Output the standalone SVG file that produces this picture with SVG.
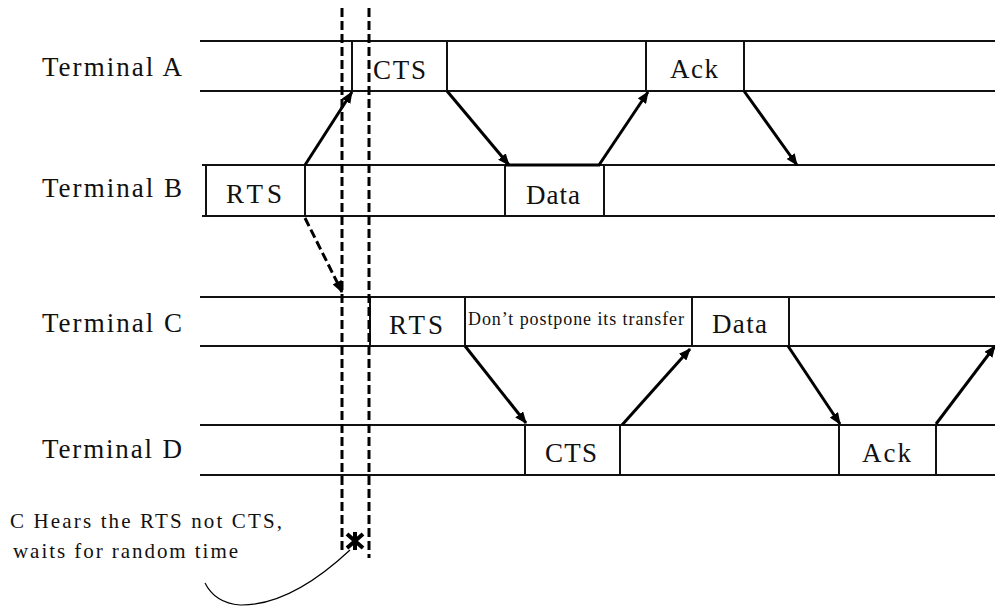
<svg xmlns="http://www.w3.org/2000/svg" width="995" height="607" viewBox="0 0 995 607">
<style>
.lane{stroke:#111;stroke-width:2;fill:none}
.t{font-family:"Liberation Serif","Times New Roman",serif;font-size:27px;fill:#111}
.n{font-family:"Liberation Serif","Times New Roman",serif;font-size:21px;fill:#111}
.s{font-family:"Liberation Serif","Times New Roman",serif;font-size:18px;fill:#111}
.arr{stroke:#000;stroke-width:3;fill:none;marker-end:url(#ah)}
.dash{stroke:#000;stroke-width:3;fill:none;stroke-dasharray:9 4}
</style>
<defs>
<marker id="ah" viewBox="0 0 12 10" refX="11" refY="5" markerWidth="12" markerHeight="10" markerUnits="userSpaceOnUse" orient="auto">
<path d="M0,0 L12,5 L0,10 z" fill="#000"/>
</marker>
</defs>
<rect width="995" height="607" fill="#fff"/>
<g id="terminalA">
<text class="t" x="42" y="76" textLength="140">Terminal A</text>
<path class="lane" d="M200,41 H995 M200,91 H995 M352,41 V91 M447,41 V91 M646,41 V91 M744,41 V91"/>
<text class="t" x="373" y="79" textLength="53">CTS</text>
<text class="t" x="670" y="78" textLength="48">Ack</text>
</g>
<g id="terminalB">
<text class="t" x="42" y="197" textLength="140">Terminal B</text>
<path class="lane" d="M202,165 H995 M202,216 H995 M206,165 V216 M305,165 V216 M505,165 V216 M604,165 V216"/>
<path d="M505,165 H600" stroke="#000" stroke-width="3"/>
<text class="t" x="226" y="203" textLength="56">RTS</text>
<text class="t" x="526" y="204" textLength="54">Data</text>
</g>
<g id="terminalC">
<text class="t" x="42" y="332" textLength="140">Terminal C</text>
<path class="lane" d="M200,297 H995 M200,346 H995 M370,297 V346 M465,297 V346 M692,297 V346 M789,297 V346"/>
<text class="t" x="389" y="334" textLength="54">RTS</text>
<text class="s" x="468" y="325" textLength="216">Don’t postpone its transfer</text>
<text class="t" x="712" y="333" textLength="55">Data</text>
</g>
<g id="terminalD">
<text class="t" x="42" y="458" textLength="140">Terminal D</text>
<path class="lane" d="M200,425 H995 M200,475 H995 M525,425 V475 M620,425 V475 M839,425 V475 M936,425 V475"/>
<text class="t" x="545" y="462" textLength="52">CTS</text>
<text class="t" x="862" y="462" textLength="49">Ack</text>
</g>
<g id="note">
<text class="n" x="10" y="528" textLength="272">C Hears the RTS not CTS,</text>
<text class="n" x="13" y="558" textLength="225">waits for random time</text>
<path d="M347,548 L363,534 M347,534 L363,548 M355,532 V550" stroke="#000" stroke-width="4"/>
<path d="M350,550 Q290,606 240,605 Q215,603 205,583" stroke="#000" stroke-width="1.2" fill="none"/>
</g>
<g id="connectors">
<path class="dash" d="M342,8 V552"/>
<path class="dash" d="M369,8 V558"/>
<path class="arr" d="M305,165 L352,92"/>
<path class="arr" d="M447,91 L509,165"/>
<path class="arr" d="M599,165 L648,92"/>
<path class="arr" d="M744,91 L797,165"/>
<path class="dash" d="M305,218 L342,292" marker-end="url(#ah)"/>
<path class="arr" d="M465,346 L526,423"/>
<path class="arr" d="M622,425 L690,349"/>
<path class="arr" d="M788,346 L840,424"/>
<path class="arr" d="M936,424 L995,346"/>
</g>
</svg>
